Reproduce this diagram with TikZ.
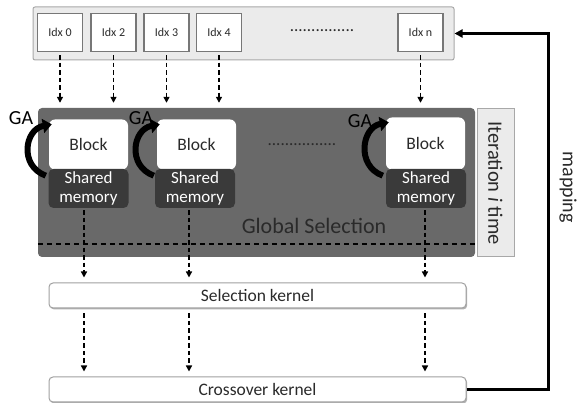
\documentclass[tikz,border=0pt]{standalone}
\usepackage{fontspec}
\setmainfont{Carlito}
\usetikzlibrary{arrows.meta,calc,shadows}

\definecolor{barfill}{HTML}{EBEBEB}
\definecolor{barline}{HTML}{A8A8A8}
\definecolor{idxline}{HTML}{777777}
\definecolor{panelfill}{HTML}{696969}
\definecolor{memfill}{HTML}{3A3A3A}
\definecolor{textdark}{HTML}{2A2A2A}
\definecolor{kernline}{HTML}{A0A0A0}

\begin{document}
\begin{tikzpicture}[x=1pt,y=-1pt,
  idxbox/.style={draw=idxline, line width=1.5pt, fill=white, minimum width=45pt,
    minimum height=38pt, inner sep=0pt, text=textdark, font=\fontsize{12}{13}\selectfont},
  flow/.style={draw=black, line width=1.4pt, dash pattern=on 4.5pt off 3pt,
    -{Triangle[width=6pt,length=6pt]}},
  blockbox/.style={fill=white, rounded corners=6pt, minimum width=79pt,
    minimum height=50pt, inner sep=0pt, text=textdark, font=\fontsize{17.5}{20}\selectfont},
  shmem/.style={fill=memfill, rounded corners=5pt, minimum width=80pt, minimum height=39pt,
    inner sep=0pt, align=center, text=white, font=\fontsize{17}{19}\selectfont},
  galoop/.style={line width=6pt, -{Triangle[width=14pt,length=9pt]}},
  galabel/.style={text=black, font=\fontsize{20}{24}\selectfont},
  kernel/.style={draw=kernline, line width=1pt, fill=white, rounded corners=4pt,
    minimum width=417pt, minimum height=25pt, inner sep=0pt, text=textdark,
    font=\fontsize{17.5}{20}\selectfont,
    drop shadow={shadow xshift=1.2pt, shadow yshift=-1.5pt, opacity=0.3, fill=black}},
  dots/.style={text=textdark, font=\fontsize{17}{18}\selectfont},
]
\useasboundingbox (0,0) rectangle (579,403);

% index bar with the individual indices
\node[draw=barline, fill=barfill, line width=1pt, rounded corners=2pt,
  minimum width=421pt, minimum height=53pt, inner sep=0pt] (topbar) at (243.5,33.5) {};
\node[idxbox] (i0) at (60,32.5) {Idx 0};
\node[idxbox] (i2) at (113.5,32.5) {Idx 2};
\node[idxbox] (i3) at (166.5,32.5) {Idx 3};
\node[idxbox] (i4) at (219,32.5) {Idx 4};
\node[idxbox] (in) at (420.5,32.5) {Idx n};
\node[dots] (topdots) at (322,31) {...............};

% global selection panel and iteration label
\node[fill=panelfill, rounded corners=4pt, minimum width=437pt, minimum height=149pt,
  inner sep=0pt] (panel) at (256.5,182.5) {};
\node[draw=barline, fill=barfill, line width=1pt, minimum width=37pt,
  minimum height=148pt, inner sep=0pt] (iter) at (495.5,183) {};
\node[rotate=-90, text=textdark, font=\fontsize{20.5}{22}\selectfont] (itertext)
  at (iter.center) {Iteration \textit{i} time};

% blocks with shared memory
\node[blockbox] (b1) at (88.5,144.5) {Block};
\node[blockbox] (b2) at (196.5,144.5) {Block};
\node[blockbox, minimum height=52pt] (b3) at (425.5,143.5) {Block};
\node[shmem] (s1) at (88.5,188.5) {Shared\\memory};
\node[shmem] (s2) at (195,188.5) {Shared\\memory};
\node[shmem] (s3) at (426,188.5) {Shared\\memory};
\node[dots] (middots) at (302,145) {................};

% GA loops
\foreach \b in {b1,b2,b3}{
  \draw[galoop] ($(\b.south west)+(-3,6)$) .. controls +(-27,-10) and +(-27,5)
    .. ($(\b.north west)+(3,5)$);
}
\node[galabel] (ga1) at (21,118) {GA};
\node[galabel] (ga2) at (141,118) {GA};
\node[galabel] (ga3) at (360,121) {GA};

\node[text=textdark, font=\fontsize{22}{26}\selectfont] (gsel) at (314,226) {Global Selection};
\draw[line width=1.4pt, dash pattern=on 5.5pt off 3.5pt] (panel.west |- 0,244) -- (panel.east |- 0,244);

% kernels
\node[kernel] (sel) at (257.5,295.5) {Selection kernel};
\node[kernel] (cross) at (257.5,389.5) {Crossover kernel};

% index to block arrows
\foreach \i in {i0,i2,i3,i4,in}{
  \draw[flow, shorten <=3pt, shorten >=5pt] (\i.south) -- (\i.south |- panel.north);
}

% block to kernel arrows
\coordinate (d1) at ($(s1.south)+(-4.5,0)$);
\coordinate (d2) at ($(s2.south)+(-6,0)$);
\coordinate (d3) at ($(s3.south)+(-1,0)$);
\foreach \d in {d1,d2,d3}{
  \draw[flow, shorten <=2pt, shorten >=5pt] (\d) -- (\d |- sel.north);
  \draw[flow, shorten <=5pt, shorten >=5pt] (\d |- sel.south) -- (\d |- cross.north);
}

% mapping back to the indices
\draw[line width=2.3pt, -{Triangle[width=8pt,length=8pt]}]
  (cross.east) -- ++(82,0) |- (topbar.east);
\node[rotate=-90, text=textdark, font=\fontsize{20}{22}\selectfont] (maplabel) at (568,187) {mapping};
\end{tikzpicture}
\end{document}
